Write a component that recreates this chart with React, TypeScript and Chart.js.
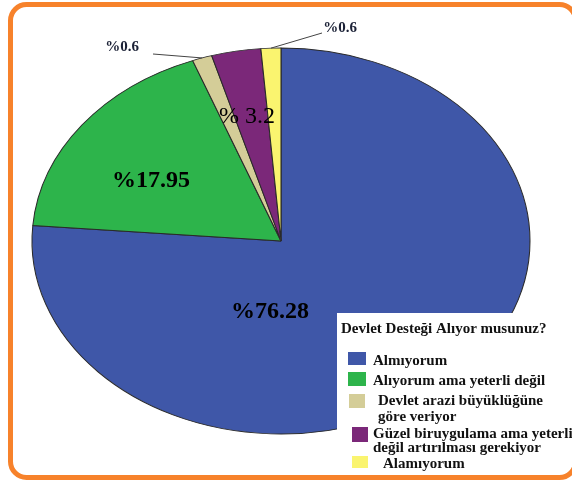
import { useEffect, useRef } from 'react';
import { Chart, registerables } from 'chart.js';

Chart.register(...registerables);

const categories = [
  'Almıyorum',
  'Alıyorum ama yeterli değil',
  'Devlet arazi büyüklüğüne\ngöre veriyor',
  'Güzel biruygulama ama yeterli\ndeğil artırılması gerekiyor',
  'Alamıyorum',
];
const values = [76.28, 17.95, 1.28, 3.2, 1.29];
const valueLabels = ['%76.28', '%17.95', '%0.6', '% 3.2', '%0.6'];
const colors = ['#3F57A8', '#2DB44B', '#D4CD98', '#7B2879', '#FAF46F'];
const legendTitle = 'Devlet Desteği Alıyor musunuz?';

const SERIF = '"Liberation Serif", "DejaVu Serif", serif';
const X_STRETCH = 249 / 193;

const ellipsePlugin = {
  id: 'ellipse',
  beforeDatasetsDraw(chart: any) {
    const arc = chart.getDatasetMeta(0).data[0];
    if (!arc) return;
    const ctx = chart.ctx;
    ctx.save();
    ctx.translate(arc.x, arc.y);
    ctx.scale(X_STRETCH, 1);
    ctx.translate(-arc.x, -arc.y);
  },
  afterDatasetsDraw(chart: any) {
    chart.ctx.restore();
  },
};

const decorPlugin = {
  id: 'decor',
  afterDraw(chart: any) {
    const ctx = chart.ctx as CanvasRenderingContext2D;
    const meta = chart.getDatasetMeta(0);
    const arcs = meta.data as any[];
    if (!arcs.length) return;
    const cx = arcs[0].x;
    const cy = arcs[0].y;
    const ry = arcs[0].outerRadius;
    const rx = ry * X_STRETCH;
    const edgePoint = (a: any) => {
      const mid = (a.startAngle + a.endAngle) / 2;
      return { x: cx + rx * Math.cos(mid), y: cy + ry * Math.sin(mid) };
    };

    // inner labels (relative to center)
    const inner: [number, number, number, string][] = [
      [0, -11, 71, 'bold 24px ' + SERIF],
      [1, -130, -60, 'bold 24px ' + SERIF],
      [3, -34, -124, '24px ' + SERIF],
    ];
    ctx.save();
    ctx.textAlign = 'center';
    ctx.textBaseline = 'middle';
    ctx.fillStyle = '#000';
    for (const [i, dx, dy, font] of inner) {
      ctx.font = font;
      ctx.fillText(valueLabels[i], cx + dx, cy + dy);
    }
    // outer labels with leader lines
    const outer: [number, number, number, number, number][] = [
      // index, label x, label y, line start x, line start y
      [2, 122, 47, 153, 54],
      [4, 340, 28, 322, 33],
    ];
    ctx.font = 'bold 15px ' + SERIF;
    for (const [i, lx, ly, sx, sy] of outer) {
      const p = edgePoint(arcs[i]);
      ctx.strokeStyle = '#444';
      ctx.lineWidth = 1;
      ctx.beginPath();
      ctx.moveTo(sx, sy);
      ctx.lineTo(p.x, p.y);
      ctx.stroke();
      ctx.fillStyle = '#1B2136';
      ctx.fillText(valueLabels[i], lx, ly);
    }

    // legend box
    ctx.fillStyle = '#fff';
    ctx.fillRect(337, 313, 240, 165);
    ctx.textAlign = 'left';
    ctx.fillStyle = '#111';
    ctx.font = 'bold 15px ' + SERIF;
    ctx.fillText(legendTitle, 341, 329);
    const items = [
      { sx: 348, sy: 352, sw: 18, sh: 13, tx: 373, ty: 361, gap: 15 },
      { sx: 348, sy: 372, sw: 18, sh: 14, tx: 373, ty: 381, gap: 15 },
      { sx: 349, sy: 394, sw: 16, sh: 14, tx: 378, ty: 401, gap: 16 },
      { sx: 352, sy: 427, sw: 16, sh: 15, tx: 373, ty: 434, gap: 14 },
      { sx: 352, sy: 456, sw: 16, sh: 12, tx: 383, ty: 464, gap: 15 },
    ];
    items.forEach((it, i) => {
      ctx.fillStyle = colors[i];
      ctx.fillRect(it.sx, it.sy, it.sw, it.sh);
      ctx.fillStyle = '#111';
      const lines = categories[i].split('\n');
      lines.forEach((ln, k) => {
        ctx.fillText(ln, it.tx, it.ty + k * it.gap);
      });
    });

    // orange frame
    ctx.strokeStyle = '#F7822B';
    ctx.lineWidth = 5;
    ctx.beginPath();
    (ctx as any).roundRect(10.5, 4.5, 565, 473, 16);
    ctx.stroke();
    ctx.restore();
  },
};

export default function App() {
  const ref = useRef<HTMLCanvasElement | null>(null);
  useEffect(() => {
    if (!ref.current) return;
    const chart = new Chart(ref.current, {
      type: 'pie',
      data: {
        labels: categories,
        datasets: [
          {
            data: values,
            backgroundColor: colors,
            borderColor: '#2a2a2a',
            borderWidth: 0.8,
            radius: 193,
          } as any,
        ],
      },
      options: {
        responsive: false,
        animation: false,
        devicePixelRatio: 1,
        layout: { padding: { left: 0, right: 10, top: 0, bottom: 0 } },
        plugins: {
          legend: { display: false },
          tooltip: { enabled: false },
        },
      },
      plugins: [ellipsePlugin, decorPlugin],
    });
    return () => chart.destroy();
  }, []);
  return (
    <div style={{ position: 'fixed', left: 0, top: 0, width: 572, height: 482, background: '#fff' }}>
      <canvas ref={ref} width={572} height={482} style={{ width: 572, height: 482, display: 'block' }} />
    </div>
  );
}
